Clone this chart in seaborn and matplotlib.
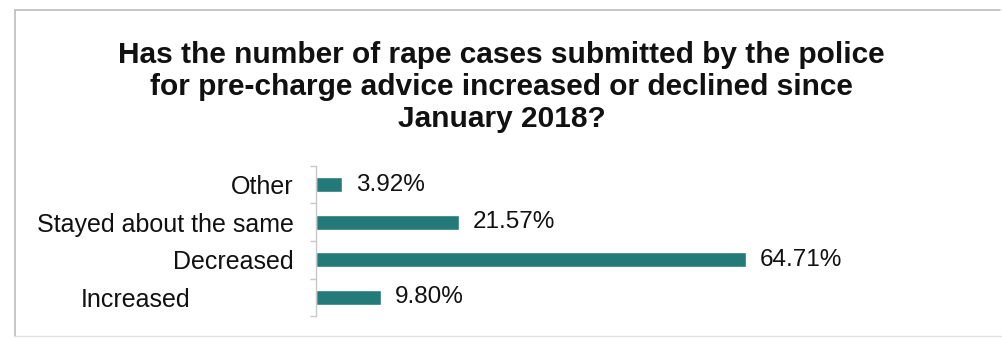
import matplotlib
matplotlib.use("Agg")
import matplotlib.pyplot as plt
import matplotlib.transforms as mtransforms
from matplotlib.lines import Line2D
import seaborn as sns
import pandas as pd

categories = ["Other", "Stayed about the same", "Decreased", "Increased"]
percentages = [3.92, 21.57, 64.71, 9.80]
value_labels = ["3.92%", "21.57%", "64.71%", "9.80%"]
title = ("Has the number of rape cases submitted by the police\n"
         "for pre-charge advice increased or declined since\n"
         "January 2018?")

sns.set_theme(style="white")
plt.rcParams["font.family"] = ["Liberation Sans", "DejaVu Sans"]

df = pd.DataFrame({"category": categories, "percent": percentages})

fig = plt.figure(figsize=(10.03, 3.38), dpi=100)
ax = fig.add_axes([0.315, 0.065, 0.645, 0.444])

sns.barplot(data=df, x="percent", y="category", color="#237a78",
            width=0.40, ax=ax, saturation=1)

ax.set_xlim(0, 97.4)
ax.set_xlabel("")
ax.set_ylabel("")
ax.set_xticks([])
for side in ["top", "right", "bottom"]:
    ax.spines[side].set_visible(False)
ax.spines["left"].set_color("#c8c8c8")
ax.spines["left"].set_linewidth(1.0)

# tick marks sit between categories
ax.set_yticks([-0.5, 0.5, 1.5, 2.5, 3.5], minor=True)
ax.tick_params(axis="y", which="minor", length=4, color="#c8c8c8", width=1, left=True)
ax.tick_params(axis="y", which="major", length=0, pad=16, labelsize=18,
               labelcolor="#111111")

# "Increased" label is set further left
for lbl in ax.get_yticklabels():
    if lbl.get_text() == "Increased":
        lbl.set_transform(lbl.get_transform() +
                          mtransforms.ScaledTranslation(-103 / 100, 0, fig.dpi_scale_trans))

for i, (v, t) in enumerate(zip(percentages, value_labels)):
    ax.annotate(t, xy=(v, i), xytext=(10, 0), textcoords="offset points",
                va="center", ha="left", fontsize=17.5, color="#111111")

fig.text(0.5, 0.878, title, ha="center", va="top", fontsize=21.5,
         fontweight="bold", color="#111111", linespacing=1.17)

# light frame along the top, left and bottom of the chart
W, H = 1003, 338
fig.lines.append(Line2D([15 / W, 1000 / W], [1 - 10 / H, 1 - 10 / H],
                        transform=fig.transFigure, color="#bcbcbc", lw=1.2))
fig.lines.append(Line2D([15 / W, 15 / W], [1 - 10 / H, 1 - 336 / H],
                        transform=fig.transFigure, color="#bcbcbc", lw=1.2))
fig.lines.append(Line2D([15 / W, 1003 / W], [1 - 336 / H, 1 - 336 / H],
                        transform=fig.transFigure, color="#e2e2e2", lw=1.0))

fig.savefig("out.png", dpi=100, facecolor="white")
